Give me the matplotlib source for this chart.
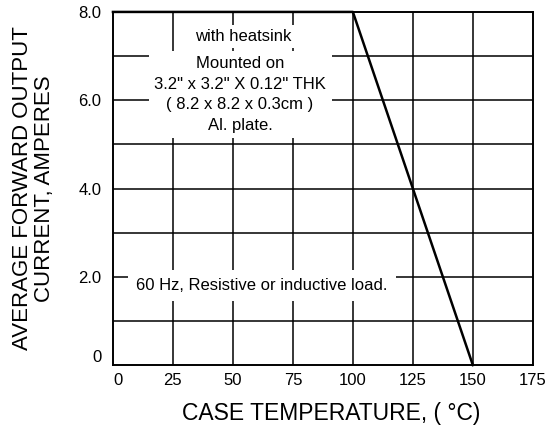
#!/usr/bin/env python3
import matplotlib
matplotlib.use("Agg")
import matplotlib.pyplot as plt

# derating curve
temp_c = [0, 100, 150]
current_a = [8.0, 8.0, 0.0]

x_ticks = [0, 25, 50, 75, 100, 125, 150, 175]
y_ticks = [0, 2, 4, 6, 8]
y_tick_labels = ["0", "2.0", "4.0", "6.0", "8.0"]
y_grid = [1, 2, 3, 4, 5, 6, 7]
x_grid = [25, 50, 75, 100, 125, 150]


def main():
    plt.rcParams["font.family"] = ["Liberation Sans", "DejaVu Sans"]
    fig = plt.figure(figsize=(5.51, 4.26), dpi=100)
    ax = fig.add_axes([0.205, 0.143, 0.762, 0.829])

    ax.set_xlim(0, 175)
    ax.set_ylim(0, 8)

    # grid drawn by hand so the text boxes can cover it
    for g in x_grid:
        ax.axvline(g, color="black", lw=1.1, zorder=1)
    for g in y_grid:
        ax.axhline(g, color="black", lw=1.1, zorder=1)

    ax.plot(temp_c, current_a, color="black", lw=1.8, zorder=4, clip_on=False)

    ax.text(54.5, 7.45, "with heatsink", ha="center", va="center",
            fontsize=12, bbox=dict(facecolor="white", edgecolor="none", pad=3),
            zorder=3)
    ax.text(53, 6.13,
            "Mounted on\n3.2\" x 3.2\" X 0.12\" THK\n( 8.2 x 8.2 x 0.3cm )\nAl. plate.",
            ha="center", va="center", fontsize=12, linespacing=1.45,
            bbox=dict(facecolor="white", edgecolor="none", pad=4), zorder=3)
    ax.text(62, 1.8, "60 Hz, Resistive or inductive load.", ha="center",
            va="center", fontsize=12,
            bbox=dict(facecolor="white", edgecolor="none", pad=6), zorder=3)

    ax.set_xticks(x_ticks)
    ax.set_yticks(y_ticks)
    ax.set_yticklabels(y_tick_labels)
    ax.tick_params(length=0, labelsize=12)
    ax.tick_params(axis="x", pad=6)
    ax.tick_params(axis="y", pad=8.5)
    # corner zeros sit inside the corner
    ax.get_xticklabels()[0].set_ha("left")
    ax.get_yticklabels()[0].set_va("bottom")
    for s in ax.spines.values():
        s.set_linewidth(1.4)

    ax.set_xlabel("CASE TEMPERATURE, ( \u00b0C)", fontsize=16.5)
    ax.xaxis.set_label_coords(0.52, -0.105)
    ax.set_ylabel("AVERAGE FORWARD OUTPUT\nCURRENT, AMPERES", fontsize=16,
                  linespacing=1.05)
    ax.yaxis.set_label_coords(-0.138, 0.5)

    fig.savefig("out.png", dpi=100)
    plt.close(fig)


if __name__ == "__main__":
    main()
